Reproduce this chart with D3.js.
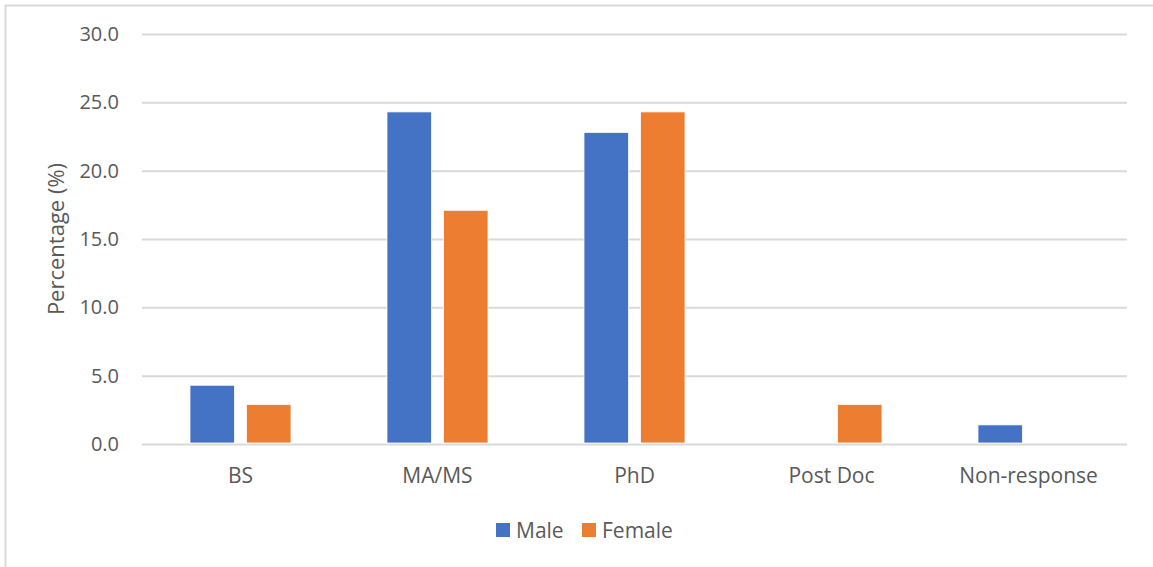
<!DOCTYPE html>
<html>
<head>
<meta charset="utf-8">
<script src="https://cdn.jsdelivr.net/npm/d3@7"></script>
<style>
  body { margin: 0; background: white; }
  text { font-family: "Open Sans", "Noto Sans", sans-serif; fill: #595959; }
</style>
</head>
<body>
<script>
const categories = ["BS", "MA/MS", "PhD", "Post Doc", "Non-response"]
const series = ["Male", "Female"]
const male = [4.3, 24.3, 22.8, 0, 1.4]
const female = [2.9, 17.1, 24.3, 2.9, 0]
const yTicks = [0, 5, 10, 15, 20, 25, 30]

const [width, height] = [1153, 567]
const colors = { "Male": "#4472c4", "Female": "#ed7d31", grid: "#d9d9d9" }
const margin = { left: 142, right: 26, top: 34, bottom: 123 }

const svg = d3.select("body").append("svg")
    .attr("width", width)
    .attr("height", height)

// chart border
svg.append("rect")
    .attr("x", 5.5).attr("y", 5.5)
    .attr("width", width + 10).attr("height", height + 10)
    .attr("fill", "none")
    .attr("stroke", colors.grid)
    .attr("stroke-width", 2)

const x = d3.scaleBand()
    .domain(categories)
    .range([margin.left, width - margin.right])

const xs = d3.scaleBand()
    .domain(series)
    .range([0, x.bandwidth()])
    .paddingInner(0.21)
    .paddingOuter(0.85)

const y = d3.scaleLinear()
    .domain([0, 30])
    .range([height - margin.bottom, margin.top])

// grid + y labels
const yAxis = svg.append("g")
    .attr("transform", `translate(${margin.left},0)`)
    .call(d3.axisLeft(y).tickValues(yTicks)
        .tickSize(-(width - margin.left - margin.right))
        .tickFormat(d3.format(".1f"))
        .tickPadding(23))
yAxis.select(".domain").remove()
yAxis.selectAll("line").attr("stroke", colors.grid).attr("stroke-width", 2)
yAxis.selectAll("text").style("font-size", "20px").attr("fill", "#595959")

const data = categories.map((c, i) => ({ cat: c, Male: male[i], Female: female[i] }))

const groups = svg.append("g")
    .selectAll("g")
    .data(data)
    .join("g")
    .attr("transform", d => `translate(${x(d.cat)},0)`)

groups.selectAll("rect")
    .data(d => series.map(s => ({ s, v: d[s] })).filter(d => d.v > 0))
    .join("rect")
    .attr("x", d => xs(d.s))
    .attr("width", xs.bandwidth())
    .attr("y", d => y(d.v))
    .attr("height", d => y(0) - y(d.v) - 1)
    .attr("fill", d => colors[d.s])
    .attr("stroke", "white")
    .attr("stroke-width", 0.8)

// x labels
const xAxis = svg.append("g")
    .attr("transform", `translate(0,${y(0)})`)
    .call(d3.axisBottom(x).tickSize(0).tickPadding(24))
xAxis.select(".domain").remove()
xAxis.selectAll("text").style("font-size", "21px").attr("fill", "#595959")

// y title
svg.append("text")
    .attr("transform", `translate(64,${(y(0) + y(30)) / 2}) rotate(-90)`)
    .attr("text-anchor", "middle")
    .style("font-size", "22px")
    .text("Percentage (%)")

// legend
const legendX = [496, 582]
const legend = svg.append("g")
    .selectAll("g")
    .data(series)
    .join("g")
    .attr("transform", (d, i) => `translate(${legendX[i]},523)`)
legend.append("rect")
    .attr("width", 14).attr("height", 14)
    .attr("fill", d => colors[d])
legend.append("text")
    .attr("x", 20).attr("y", 15)
    .style("font-size", "21px")
    .text(d => d)
</script>
</body>
</html>
